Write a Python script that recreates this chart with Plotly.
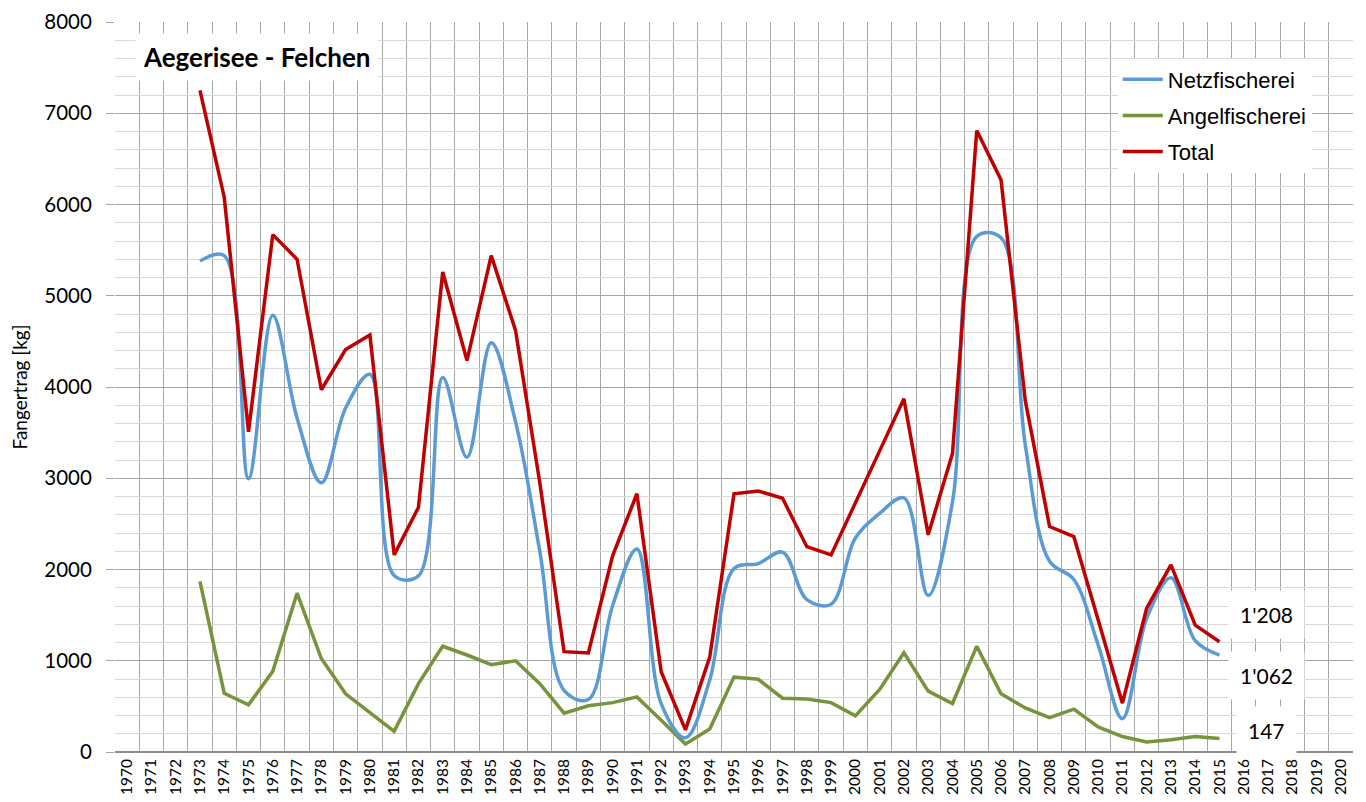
import plotly.graph_objects as go

years = list(range(1973, 2016))
total = [7250, 6080, 3510, 5670, 5400, 3970, 4410, 4570, 2160, 2680,
         5260, 4290, 5440, 4620, 2950, 1100, 1085, 2150, 2830, 880,
         242, 1040, 2830, 2860, 2780, 2250, 2160, 2740, 3300, 3870,
         2380, 3270, 6810, 6270, 3850, 2470, 2360, 1450, 535, 1575,
         2050, 1390, 1208]
angel = [1870, 643, 517, 884, 1740, 1024, 638, 435, 227, 749,
         1159, 1063, 957, 1000, 749, 425, 507, 541, 604, 348,
         87, 251, 821, 797, 589, 580, 541, 396, 686, 1087,
         667, 531, 1159, 638, 483, 377, 469, 275, 169, 111,
         135, 169, 147]
netz = [5380, 5440, 2995, 4785, 3660, 2950, 3770, 4140, 1935, 1930,
        4105, 3230, 4485, 3620, 2200, 675, 575, 1605, 2225, 530,
        155, 790, 2010, 2065, 2190, 1670, 1620, 2345, 2615, 2785,
        1715, 2740, 5650, 5635, 3365, 2090, 1890, 1175, 365, 1465,
        1910, 1220, 1062]
axis_years = list(range(1970, 2021))
end_labels = ["1'208", "1'062", "147"]
end_label_y = [1510, 840, 240]

FONT = "Lato, Calibri, sans-serif"

fig = go.Figure()
fig.add_trace(go.Scatter(x=years, y=angel, name="Angelfischerei", mode="lines",
                         line=dict(color="#77933C", width=3.5), legendrank=2, legendgroup="a"))
fig.add_trace(go.Scatter(x=years, y=netz, name="Netzfischerei", mode="lines",
                         line=dict(color="#5B9BD5", width=3.5, shape="spline", smoothing=1.0),
                         legendrank=1, legendgroup="n"))
fig.add_trace(go.Scatter(x=years, y=total, name="Total", mode="lines",
                         line=dict(color="#C00000", width=3.5), legendrank=3, legendgroup="t"))

fig.update_xaxes(
    range=[1969.5, 2020.5],
    tickmode="array", tickvals=axis_years, ticktext=[str(y) for y in axis_years],
    tickangle=-90, ticks="", showgrid=False, zeroline=False,
    tickfont=dict(family=FONT, size=15.5, color="#000000"),
    minor=dict(tick0=1969.5, dtick=1, showgrid=True, gridcolor="#A6A6A6", gridwidth=1, ticks=""),
    showline=False, fixedrange=True, automargin=False, ticklabelstandoff=3,
    ticklabeloverflow="allow",
)
fig.update_yaxes(
    range=[0, 8000], dtick=1000, tick0=0,
    showgrid=True, gridcolor="#A6A6A6", gridwidth=1,
    ticks="outside", ticklen=8, tickcolor="#A6A6A6", tickwidth=1,
    minor=dict(dtick=200, showgrid=True, gridcolor="#D9D9D9", gridwidth=1, ticks=""),
    zeroline=True, zerolinecolor="#8C8C8C", zerolinewidth=1.5,
    tickfont=dict(family=FONT, size=20.5, color="#000000"),
    ticklabelstandoff=10, ticklabeloverflow="allow",
    title=dict(text="Fangertrag [kg]", font=dict(family=FONT, size=19, color="#000000"),
               standoff=16),
    showline=False, automargin=False,
)

fig.add_annotation(xref="paper", yref="paper", x=0.114, y=0.952, text="<b>Aegerisee - Felchen</b>",
                   showarrow=False, xanchor="center", yanchor="middle",
                   font=dict(family=FONT, size=26, color="#000000"),
                   bgcolor="white", borderpad=7)
for lab, yv in zip(end_labels, end_label_y):
    fig.add_annotation(x=2016.95, y=yv, text=lab, showarrow=False, xanchor="center", yanchor="middle",
                       font=dict(family=FONT, size=21, color="#000000"),
                       bgcolor="white", borderpad=11)

fig.update_layout(
    width=1366, height=802,
    margin=dict(l=107, r=21, t=14, b=58),
    plot_bgcolor="white", paper_bgcolor="white",
    legend=dict(x=0.81, y=0.95, xanchor="left", yanchor="top", bgcolor="white",
                font=dict(family="Liberation Sans, Arial, sans-serif", size=22, color="#000000"),
                itemwidth=40, tracegroupgap=4.5),
    showlegend=True,
)

fig.write_html("out.html")
